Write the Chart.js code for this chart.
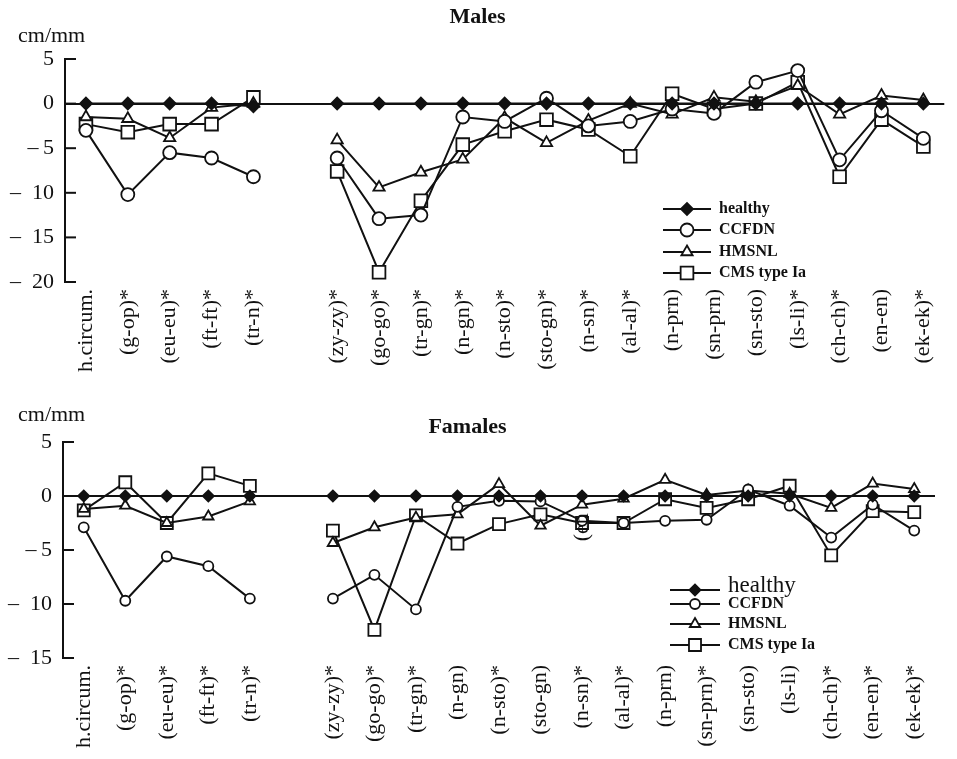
<!DOCTYPE html>
<html>
<head>
<meta charset="utf-8">
<script src="https://cdn.jsdelivr.net/npm/chart.js@4.4.1/dist/chart.umd.min.js"></script>
<style>
  body { margin: 0; background: #fff; }
  canvas { display: block; }
</style>
</head>
<body>
<canvas id="males_chart" width="957" height="380"></canvas>
<canvas id="females_chart" width="957" height="379"></canvas>
<script>
// categories ("" is the empty slot between the head and the face measures)
const labels_m = ["h.circum.", "(g-op)*", "(eu-eu)*", "(ft-ft)*", "(tr-n)*", "",
  "(zy-zy)*", "(go-go)*", "(tr-gn)*", "(n-gn)*", "(n-sto)*", "(sto-gn)*", "(n-sn)*", "(al-al)*",
  "(n-prn)", "(sn-prn)", "(sn-sto)", "(ls-li)*", "(ch-ch)*", "(en-en)", "(ek-ek)*"];
const labels_f = ["h.circum.", "(g-op)*", "(eu-eu)*", "(ft-ft)*", "(tr-n)*", "",
  "(zy-zy)*", "(go-go)*", "(tr-gn)*", "(n-gn)", "(n-sto)*", "(sto-gn)", "(n-sn)*", "(al-al)*",
  "(n-prn)", "(sn-prn)*", "(sn-sto)", "(ls-li)", "(ch-ch)*", "(en-en)*", "(ek-ek)*"];

// males, cm/mm difference from healthy
const healthy_m = [0, 0, 0, 0, -0.3, null, 0, 0, 0, 0, 0, 0, 0, 0, 0, 0, 0, 0, 0, 0, 0];
const ccfdn_m = [-3.0, -10.2, -5.5, -6.1, -8.2, null, -6.1, -12.9, -12.5, -1.5, -2.0, 0.6, -2.5, -2.0, -0.6, -1.1, 2.4, 3.7, -6.3, -0.8, -3.9];
const hmsnl_m = [-1.5, -1.7, -3.85, -0.45, 0, null, -4.1, -9.4, -7.7, -6.25, -1.6, -4.4, -1.9, 0, -1.2, 0.7, 0.2, 2.0, -1.2, 0.9, 0.4];
const cms_m = [-2.3, -3.2, -2.3, -2.3, 0.7, null, -7.6, -18.9, -10.9, -4.6, -3.1, -1.8, -2.9, -5.9, 1.1, -0.6, 0, 2.4, -8.2, -1.8, -4.8];

// females
const healthy_f = [0, 0, 0, 0, 0, null, 0, 0, 0, 0, 0, 0, 0, 0, 0, 0, 0, 0, 0, 0, 0];
const ccfdn_f = [-2.9, -9.7, -5.6, -6.5, -9.5, null, -9.5, -7.3, -10.5, -1.0, -0.45, -0.5, -2.3, -2.5, -2.3, -2.2, 0.6, -0.9, -3.85, -0.8, -3.2];
const hmsnl_f = [-1.2, -0.9, -2.5, -1.9, -0.5, null, -4.35, -2.9, -2.0, -1.7, 1.1, -2.75, -0.8, -0.25, 1.5, 0.1, 0.5, 0.2, -1.1, 1.15, 0.65];
const cms_f = [-1.33, 1.27, -2.5, 2.1, 0.94, null, -3.2, -12.4, -1.8, -4.4, -2.6, -1.7, -2.5, -2.5, -0.3, -1.1, -0.3, 0.95, -5.5, -1.4, -1.5];

const ticks_m = [5, 0, -5, -10, -15, -20];
const tick_labels_m = ["5", "0", "\u2013\u20095", "\u2013\u200210", "\u2013\u200215", "\u2013\u200220"];
const ticks_f = [5, 0, -5, -10, -15];
const tick_labels_f = ["5", "0", "\u2013\u20095", "\u2013\u200210", "\u2013\u200215"];

const INK = "#111";
const SERIF = "'Liberation Serif', 'Times New Roman', serif";

// inward tick marks, unit text, legend inside the plot, stray scan text
const extras = {
  id: "extras",
  afterDraw(chart, args, opts) {
    const ctx = chart.ctx, y = chart.scales.y, x = chart.scales.x, area = chart.chartArea;
    ctx.save();
    ctx.strokeStyle = INK;
    ctx.lineWidth = 2;
    y.ticks.forEach((t, i) => {
      const py = y.getPixelForTick(i);
      ctx.beginPath();
      ctx.moveTo(area.left, py);
      ctx.lineTo(area.left + 11, py);
      ctx.stroke();
    });

    ctx.fillStyle = INK;
    ctx.font = "22px " + SERIF;
    ctx.textBaseline = "middle";
    ctx.textAlign = "left";
    ctx.fillText("cm/mm", opts.unitX, opts.unitY);

    chart.data.datasets.forEach((ds, i) => {
      const ly = opts.rows[i];
      ctx.strokeStyle = INK;
      ctx.lineWidth = 2;
      ctx.beginPath();
      ctx.moveTo(opts.x1, ly);
      ctx.lineTo(opts.x2, ly);
      ctx.stroke();
      ctx.fillStyle = ds.pointBackgroundColor;
      ctx.lineWidth = ds.pointBorderWidth;
      Chart.helpers.drawPoint(ctx, {pointStyle: ds.pointStyle, radius: ds.pointRadius, rotation: 0, borderWidth: ds.pointBorderWidth}, (opts.x1 + opts.x2) / 2, ly);
      ctx.fillStyle = INK;
      ctx.font = opts.fonts[i] + " " + SERIF;
      ctx.fillText(ds.label, opts.tx, opts.textRows[i]);
    });

    if (opts.note) {
      ctx.translate(x.getPixelForValue(opts.note.at), y.getPixelForValue(opts.note.value));
      ctx.rotate(-Math.PI / 2);
      ctx.font = "22px " + SERIF;
      ctx.textAlign = "right";
      ctx.fillText(opts.note.text, 0, 0);
    }
    ctx.restore();
  }
};

function makeDatasets(series, r) {
  const base = [
    {label: "healthy", data: series[0], pointStyle: "rectRot", pointRadius: r[0], pointBackgroundColor: INK},
    {label: "CCFDN", data: series[1], pointStyle: "circle", pointRadius: r[1], pointBackgroundColor: "#fff"},
    {label: "HMSNL", data: series[2], pointStyle: "triangle", pointRadius: r[2], pointBackgroundColor: "#fff"},
    {label: "CMS type Ia", data: series[3], pointStyle: "rect", pointRadius: r[3], pointBackgroundColor: "#fff"}
  ];
  return base.map(ds => Object.assign({
    borderColor: INK, borderWidth: 2, pointBorderColor: INK, pointBorderWidth: 1.8,
    tension: 0, spanGaps: false, pointHoverRadius: ds.pointRadius
  }, ds));
}

function makeConfig(labels, series, radii, tickVals, tickLabels, min, max, title, lay) {
  return {
    type: "line",
    data: {labels: labels, datasets: makeDatasets(series, radii)},
    plugins: [extras],
    options: {
      responsive: false,
      animation: false,
      layout: {padding: {left: 0, right: lay.right, top: 0, bottom: 0}},
      plugins: {
        legend: {display: false},
        tooltip: {enabled: false},
        title: {
          display: true, text: title, color: INK,
          font: {family: SERIF, size: 22, weight: "bold"},
          padding: {top: lay.titleTop, bottom: lay.titleBottom}
        },
        extras: lay.extras
      },
      scales: {
        x: {
          type: "category",
          offset: true,
          grid: {display: false, drawTicks: false},
          border: {display: false},
          ticks: {color: INK, font: {family: SERIF, size: 22}, minRotation: 90, maxRotation: 90, autoSkip: false, padding: 7},
          afterFit: s => { s.height = lay.xh; }
        },
        y: {
          min: min, max: max,
          afterBuildTicks: s => { s.ticks = tickVals.map(v => ({value: v})); },
          ticks: {color: INK, font: {family: SERIF, size: 22}, padding: 11,
            callback: v => tickLabels[tickVals.indexOf(v)]},
          grid: {drawTicks: false, lineWidth: 2,
            color: c => (c.tick && c.tick.value === 0) ? INK : "rgba(0,0,0,0)"},
          border: {display: true, color: INK, width: 2},
          afterFit: s => { s.width = lay.yw; }
        }
      }
    }
  };
}

let males_chart = new Chart("males_chart", makeConfig(
  labels_m, [healthy_m, ccfdn_m, hmsnl_m, cms_m], [6, 6.5, 6.5, 9],
  ticks_m, tick_labels_m, -20, 5, "Males",
  {right: 2, titleTop: 4, titleBottom: 28.6, xh: 98, yw: 65,
   extras: {unitX: 18, unitY: 36, x1: 663, x2: 711, tx: 719,
            rows: [209, 230, 252, 273], textRows: [209, 230, 252, 273],
            fonts: ["bold 16px", "bold 16px", "bold 16px", "bold 16px"]}}
));

let females_chart = new Chart("females_chart", makeConfig(
  labels_f, [healthy_f, ccfdn_f, hmsnl_f, cms_f], [5.5, 5, 6, 8.5],
  ticks_f, tick_labels_f, -15, 5, "Famales",
  {right: 22, titleTop: 33.8, titleBottom: 1.8, xh: 101, yw: 63,
   extras: {unitX: 18, unitY: 35, x1: 670, x2: 720, tx: 728,
            rows: [210, 224, 244, 265], textRows: [206, 224, 244, 265],
            fonts: ["23px", "bold 16px", "bold 16px", "bold 16px"],
            note: {text: "(en", at: 12, value: -1.6}}}
));
</script>
</body>
</html>
